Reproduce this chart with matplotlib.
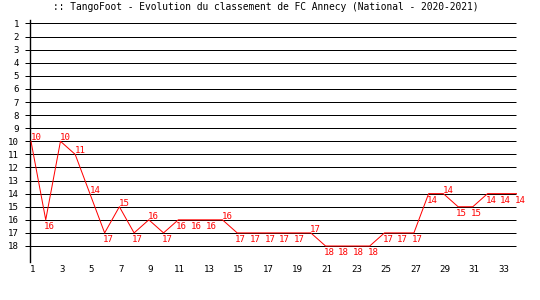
import matplotlib
matplotlib.use("Agg")
import matplotlib.pyplot as plt
from matplotlib.transforms import offset_copy

title = ":: TangoFoot - Evolution du classement de FC Annecy (National - 2020-2021)"
rounds = list(range(1, 35))
ranks = [10, 16, 10, 11, 14, 17, 15, 17, 16, 17,
         16, 16, 16, 16, 17, 17, 17, 17, 17, 17,
         18, 18, 18, 18, 17, 17, 17, 14, 14, 15,
         15, 14, 14, 14]
y_ticks = list(range(1, 19))
x_ticks = list(range(1, 34, 2))

W, H, DPI = 540, 300, 100
fig = plt.figure(figsize=(W / DPI, H / DPI), dpi=DPI)
fig.patch.set_facecolor("white")

# axes pixel box
left_px, right_px, top_px, bot_px = 30, 517, 20, 262
ax = fig.add_axes([left_px / W, 1 - bot_px / H, (right_px - left_px) / W, (bot_px - top_px) / H])
ax.set_facecolor("white")

dx = (right_px - 31) / 33.0       # px per round (round 1 at x=31)
dy = (246 - 23.5) / 17.0          # px per rank (rank 1 at y=23.5)
ax.set_xlim(1 - (31 - left_px) / dx, 34)
ax.set_ylim(1 + (bot_px - 23.5) / dy, 1 - (23.5 - top_px) / dy)

for s in ["top", "right", "bottom"]:
    ax.spines[s].set_visible(False)
ax.spines["left"].set_linewidth(1.0)
ax.spines["left"].set_color("black")

mono = "DejaVu Sans Mono"
lw = 72 / DPI

# horizontal grid lines (extend a bit to the left of the axis)
x_gl = 1 - (31 - 25) / dx
x_gr = 34 - (517 - 516) / dx
for r in y_ticks:
    ax.plot([x_gl, x_gr], [r, r], color="black", lw=lw, clip_on=False, zorder=1,
            solid_capstyle="butt")

ax.set_yticks(y_ticks)
ax.set_yticklabels([str(v) for v in y_ticks], fontfamily=mono, fontsize=6.6)
ax.tick_params(axis="y", length=0, pad=8)
ax.set_xticks(x_ticks)
ax.set_xticklabels([str(v) for v in x_ticks], fontfamily=mono, fontsize=6.6)
ax.tick_params(axis="x", length=0, pad=2)
for t in ax.get_xticklabels():
    t.set_transform(offset_copy(t.get_transform(), fig=fig, x=1.5, y=0, units="dots"))

ax.plot(rounds, ranks, color="#FF0000", lw=lw, zorder=3)

red = "#FF0000"
for i, (x, r) in enumerate(zip(rounds, ranks)):
    above = i + 1 < len(ranks) and r < ranks[i + 1]
    if above:
        tr = offset_copy(ax.transData, fig=fig, x=-0.5, y=1, units="dots")
        ax.text(x, r, str(r), transform=tr, ha="left", va="baseline", color=red,
                fontfamily=mono, fontsize=6.6, clip_on=False, zorder=4)
    else:
        tr = offset_copy(ax.transData, fig=fig, x=-2, y=-2, units="dots")
        ax.text(x, r, str(r), transform=tr, ha="left", va="top", color=red,
                fontfamily=mono, fontsize=6.6, clip_on=False, zorder=4)

fig.text(0.5 - 4 / W, 1 - 7.5 / H, title, ha="center", va="center",
         fontfamily=mono, fontsize=6.9, color="black")

fig.savefig("out.png", dpi=DPI, facecolor="white")
